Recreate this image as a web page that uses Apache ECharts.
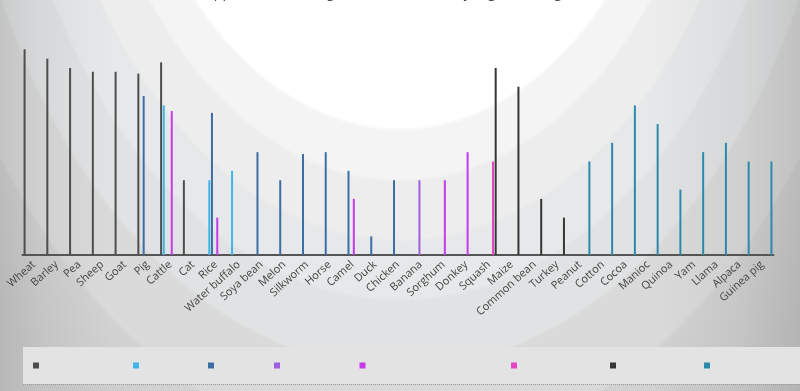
<!DOCTYPE html>
<html>
<head>
<meta charset="utf-8">
<script src="https://cdn.jsdelivr.net/npm/echarts@6/dist/echarts.min.js"></script>
<style>
html,body{margin:0;padding:0;}
#chart{width:800px;height:391px;
background:
 linear-gradient(to right, rgba(80,80,80,0.16) 0px, rgba(80,80,80,0.07) 40px, rgba(80,80,80,0) 110px, rgba(80,80,80,0) 650px, rgba(80,80,80,0.07) 740px, rgba(80,80,80,0.18) 800px),
 radial-gradient(ellipse 570px 854px at 400px -300px, #ffffff 0%, #ffffff 50%, #f4f4f4 50.5%, #f4f4f4 56%, #ededed 56.5%, #ededed 63%, #e7e8e9 63.5%, #e7e8e9 70%, #e1e2e3 70.5%, #e1e2e3 78%, #dadada 78.5%, #dadada 88%, #d2d2d2 88.5%, #cbcbcb 100%);
}
</style>
</head>
<body>
<div id="chart"></div>
<script>
const categories = ["Wheat","Barley","Pea","Sheep","Goat","Pig","Cattle","Cat","Rice","Water buffalo","Soya bean","Melon","Silkworm","Horse","Camel","Duck","Chicken","Banana","Sorghum","Donkey","Squash","Maize","Common bean","Turkey","Peanut","Cotton","Cocoa","Manioc","Quinoa","Yam","Llama","Alpaca","Guinea pig"];

const regions = ["Fertile Crescent","South Asia","East Asia","New Guinea","Sahel and Horn of Africa","Eastern N. America","Mesoamerica","Andes"];

// years ago, null = not domesticated in that region
const fertileCrescent = [11000,10500,10000,9800,9800,9700,10300,4000,null,null,null,null,null,null,null,null,null,null,null,null,null,null,null,null,null,null,null,null,null,null,null,null,null];
const southAsia      = [null,null,null,null,null,null,8000,null,4000,4500,null,null,null,null,null,null,null,null,null,null,null,null,null,null,null,null,null,null,null,null,null,null,null];
const eastAsia       = [null,null,null,null,null,8500,null,null,7600,null,5500,4000,5400,5500,4500,1000,4000,null,null,null,null,null,null,null,null,null,null,null,null,null,null,null,null];
const newGuinea      = [null,null,null,null,null,null,null,null,null,null,null,null,null,null,null,null,null,4000,null,null,null,null,null,null,null,null,null,null,null,null,null,null,null];
const africa         = [null,null,null,null,null,null,7700,null,2000,null,null,null,null,null,3000,null,null,null,4000,5500,null,null,null,null,null,null,null,null,null,null,null,null,null];
const easternNA      = [null,null,null,null,null,null,null,null,null,null,null,null,null,null,null,null,null,null,null,null,5000,null,null,null,null,null,null,null,null,null,null,null,null];
const mesoamerica    = [null,null,null,null,null,null,null,null,null,null,null,null,null,null,null,null,null,null,null,null,10000,9000,3000,2000,null,null,null,null,null,null,null,null,null];
const andes          = [null,null,null,null,null,null,null,null,null,null,null,null,null,null,null,null,null,null,null,null,null,null,null,null,5000,6000,8000,7000,3500,5500,6000,5000,5000];

const seriesValues = [fertileCrescent, southAsia, eastAsia, newGuinea, africa, easternNA, mesoamerica, andes];
const colors = ["#4d4d4d","#3fb6e6","#3c6ea6","#9d5fe0","#c73aea","#e345c4","#363636","#2b8aac"];

const chart = echarts.init(document.getElementById('chart'), null, {renderer:'canvas'});

// legend entries sit at these x positions in the reference (their text is not shown there)
const legendLeft = [33, 133, 208, 274, 359.5, 511, 610, 704];

chart.setOption({
  backgroundColor: 'transparent',
  animation: false,
  title: {
    text: 'Approximate timing of domestication, by region of origin',
    left: 200, top: -19,
    textStyle: {fontSize: 14, fontWeight: 'normal', color: '#444', fontFamily: 'Open Sans'}
  },
  graphic: [
    {type:'rect', shape:{x:23, y:347, width:790, height:37}, style:{fill:'#e3e3e3'}, z:-1, silent:true},
    {type:'line', shape:{x1:23, y1:384.5, x2:800, y2:384.5}, style:{stroke:'#9a9a9a', lineWidth:1, lineDash:[1,1]}, z:-1, silent:true}
  ],
  legend: regions.map((n, i) => ({
    left: legendLeft[i], top: 360, padding: 0,
    itemWidth: 6, itemHeight: 6,
    icon: 'rect',
    textStyle: {fontSize: 11, color: 'rgba(0,0,0,0)'},
    data: [n]
  })),
  grid: {left: 22.5, right: 26.5, top: 30.6, bottom: 136, containLabel: false},
  xAxis: {
    type: 'category',
    data: categories,
    axisLine: {lineStyle: {color: '#555', width: 2}},
    axisTick: {show: false},
    axisLabel: {interval: 0, rotate: 42, fontSize: 11, color: '#444', margin: 8, fontFamily: 'Open Sans'}
  },
  yAxis: {type: 'value', min: 0, max: 12000, show: false, splitLine: {show: false}},
  series: seriesValues.map((vals, i) => ({
    name: regions[i],
    type: 'bar',
    data: vals,
    barWidth: 2,
    barGap: '33%',
    itemStyle: {color: colors[i]}
  }))
});
</script>
</body>
</html>
